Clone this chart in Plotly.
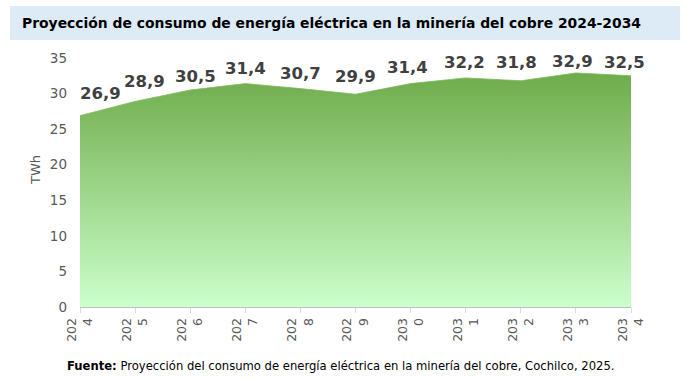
import plotly.graph_objects as go

years = [2024, 2025, 2026, 2027, 2028, 2029, 2030, 2031, 2032, 2033, 2034]
consumo_twh = [26.9, 28.9, 30.5, 31.4, 30.7, 29.9, 31.4, 32.2, 31.8, 32.9, 32.5]
value_labels = ["26,9", "28,9", "30,5", "31,4", "30,7", "29,9", "31,4", "32,2", "31,8", "32,9", "32,5"]
tick_labels = ["202<br>4", "202<br>5", "202<br>6", "202<br>7", "202<br>8", "202<br>9",
               "203<br>0", "203<br>1", "203<br>2", "203<br>3", "203<br>4"]
y_ticks = [0, 5, 10, 15, 20, 25, 30, 35]

# label offsets (style, px)
label_dx = [20, 9, 5, 0, 0, 0, -3, -1, -4, -3, -7]
label_dy = [22, 20, 14, 15, 15, 18, 16, 15, 18, 11, 13]

FONT = "DejaVu Sans"

fig = go.Figure()
fig.add_trace(go.Scatter(
    x=years, y=consumo_twh, mode="lines", fill="tozeroy",
    line=dict(color="#7cb85a", width=0.8),
    fillgradient=dict(type="vertical", start=0, stop=33,
                      colorscale=[[0, "#ccffcc"], [1, "#6eab4a"]]),
    hoverinfo="skip", showlegend=False,
))

for x, y, t, dx, dy in zip(years, consumo_twh, value_labels, label_dx, label_dy):
    fig.add_annotation(x=x, y=y, text=f"<b>{t}</b>", showarrow=False,
                       xshift=dx, yshift=dy,
                       font=dict(family=FONT, size=16.5, color="#404040"))

fig.update_layout(
    width=685, height=378,
    margin=dict(l=80, r=54, t=58, b=71, autoexpand=False),
    paper_bgcolor="white", plot_bgcolor="white",
    font=dict(family=FONT, color="#595959"),
    xaxis=dict(range=[2024, 2034], tickvals=years, ticktext=tick_labels,
               tickangle=-90, tickfont=dict(size=12.5, color="#595959"),
               ticks="outside", ticklen=5, tickcolor="#d9d9d9",
               showline=True, linecolor="#bfbfbf", linewidth=1,
               showgrid=False, zeroline=False, fixedrange=True, automargin=False),
    yaxis=dict(range=[0, 35], tickvals=y_ticks, tickfont=dict(size=13.5, color="#595959"),
               showgrid=False, zeroline=False, showline=False, ticks="",
               ticklabelstandoff=12, fixedrange=True, automargin=False),
    shapes=[dict(type="rect", xref="paper", yref="paper",
                 x0=-70/551, x1=600/551, y0=1 + 18/249, y1=1 + 52/249,
                 fillcolor="#ddebf7", line=dict(width=0), layer="below")],
)

fig.add_annotation(xref="paper", yref="paper", x=-60/551, y=1 + 35/249,
                   xanchor="left", yanchor="middle", showarrow=False,
                   text="<b>Proyección de consumo de energía eléctrica en la minería del cobre 2024-2034</b>",
                   font=dict(family=FONT, size=13.9, color="#000000"))
fig.add_annotation(xref="paper", yref="paper", x=-45/551, y=(307 - 170) / 249,
                   xanchor="center", yanchor="middle", showarrow=False, textangle=-90,
                   text="TWh", font=dict(family=FONT, size=13, color="#595959"))
fig.add_annotation(xref="paper", yref="paper", x=-15/551, y=-(366 - 307) / 249,
                   xanchor="left", yanchor="middle", showarrow=False,
                   text="<b>Fuente:</b> Proyección del consumo de energía eléctrica en la minería del cobre, Cochilco, 2025.",
                   font=dict(family=FONT, size=11.6, color="#000000"))

fig.write_html("out.html", config={"displayModeBar": False},
               post_script="document.body.style.margin='0';document.body.style.overflow='hidden';")
